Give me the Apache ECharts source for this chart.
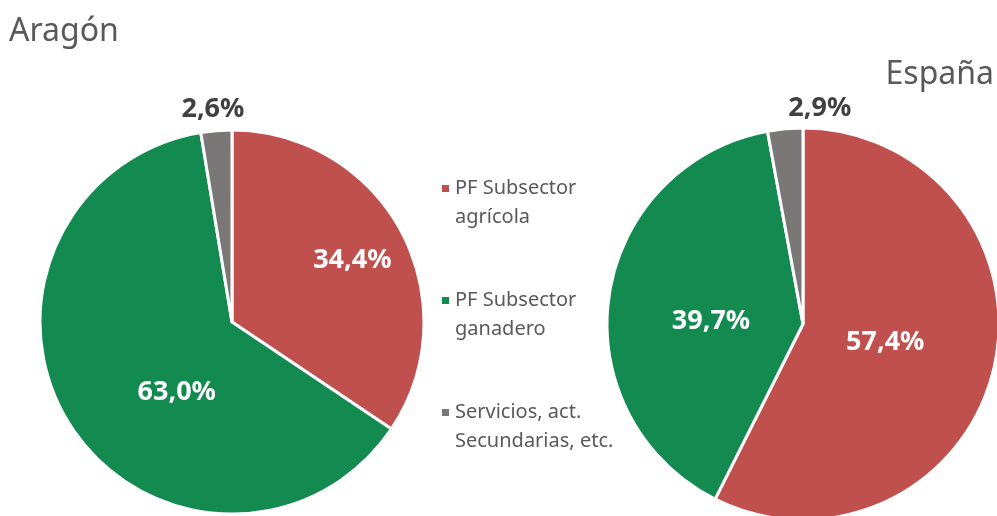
<!DOCTYPE html>
<html>
<head>
<meta charset="utf-8">
<script src="https://cdn.jsdelivr.net/npm/echarts@6/dist/echarts.min.js"></script>
<style>
  html, body { margin: 0; padding: 0; background: #fff; }
  #chart { width: 997px; height: 516px; }
</style>
</head>
<body>
<div id="chart"></div>
<script>
// categories and values
var categorias = ['PF Subsector agrícola', 'PF Subsector ganadero', 'Servicios, act. Secundarias, etc.'];
var leyenda = ['PF Subsector\nagrícola', 'PF Subsector\nganadero', 'Servicios, act.\nSecundarias, etc.'];
var aragon = [34.4, 63.0, 2.6];
var espana = [57.4, 39.7, 2.9];
var colores = ['#C0504D', '#128A50', '#7A7877'];

// label nudges (dx, dy) from the slice middle, like Excel's best fit
var ajusteAragon = [[33, -15], [28, 17], [-11, -114]];
var ajusteEspana = [[-16, -5], [8, 12], [26, -115]];

function datos(vals) {
  return vals.map(function (v, i) {
    var dark = i === 2;
    return {
      name: categorias[i],
      value: v,
      label: {
        color: dark ? '#404040' : '#ffffff'
      }
    };
  });
}

function serie(vals, center, radius, ajuste) {
  return {
    type: 'pie',
    center: center,
    radius: radius,
    startAngle: 90,
    clockwise: true,
    avoidLabelOverlap: false,
    silent: true,
    itemStyle: { borderColor: '#fff', borderWidth: 3 },
    label: {
      show: true,
      position: 'inside',
      fontFamily: 'Noto Sans',
      fontSize: 27,
      fontWeight: 'bold',
      formatter: function (p) {
        return p.value.toFixed(1).replace('.', ',') + '%';
      }
    },
    labelLine: { show: false },
    labelLayout: function (params) {
      var a = ajuste[params.dataIndex];
      return { dx: a[0], dy: a[1] };
    },
    data: datos(vals)
  };
}

var chart = echarts.init(document.getElementById('chart'));
chart.setOption({
  animation: false,
  color: colores,
  title: [
    {
      text: 'Aragón',
      left: 4,
      top: 11,
      textStyle: { fontFamily: 'Noto Sans', fontSize: 32, fontWeight: 'normal', color: '#595959' }
    },
    {
      text: 'España',
      right: -2,
      top: 54,
      textStyle: { fontFamily: 'Noto Sans', fontSize: 32, fontWeight: 'normal', color: '#595959' }
    }
  ],
  legend: {
    orient: 'vertical',
    left: 435,
    top: 140,
    icon: 'rect',
    itemWidth: 9,
    itemHeight: 9,
    itemGap: 25,
    selectedMode: false,
    data: categorias,
    formatter: function (name) {
      // blank first line so the square sits beside the first text line
      return '\n' + leyenda[categorias.indexOf(name)];
    },
    textStyle: { fontFamily: 'Noto Sans', fontSize: 20, color: '#595959', lineHeight: 29 }
  },
  series: [
    serie(aragon, [232, 322], 192, ajusteAragon),
    serie(espana, [803, 324], 196, ajusteEspana)
  ]
});
</script>
</body>
</html>
